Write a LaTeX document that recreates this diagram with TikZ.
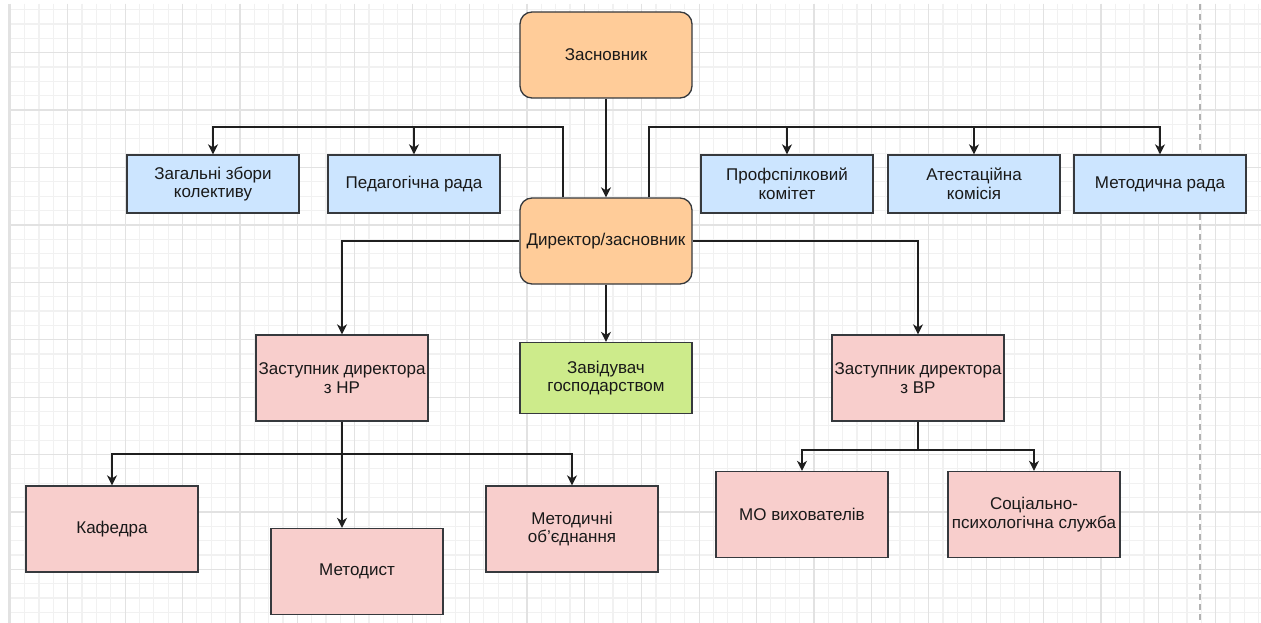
\documentclass[tikz,border=0pt]{standalone}
\usepackage{fontspec}
\setmainfont{Liberation Sans}
\usepackage{tikz}
\usetikzlibrary{calc}
\usetikzlibrary{arrows.meta}

\definecolor{orng}{HTML}{FFCC99}
\definecolor{blu}{HTML}{CCE5FF}
\definecolor{pnk}{HTML}{F8CECC}
\definecolor{grn}{HTML}{CDEB8B}
\definecolor{rim}{HTML}{36393D}
\definecolor{gridminor}{HTML}{F1F1F1}
\definecolor{gridmajor}{HTML}{E2E2E2}

\begin{document}
\begin{tikzpicture}[x=1pt, y=-1pt,
    box/.style={draw=rim, line width=1.3pt, inner sep=0, minimum width=172pt, align=center,
                font=\fontsize{17}{18.6}\selectfont, text=black!90},
    head/.style={box, fill=orng, rounded corners=12pt, minimum height=86pt},
    council/.style={box, fill=blu, minimum height=58pt},
    deputy/.style={box, fill=pnk, minimum height=86pt},
    house/.style={box, fill=grn, minimum height=71pt},
    link/.style={line width=1.6pt, black!88},
    arr/.style={link, -{Stealth[length=10pt, width=10pt, inset=3pt]}}]

        \fill[white] (0, 0) rectangle (1261, 623);
        \useasboundingbox (0, 0) rectangle (1261, 623);

        % grid
        \foreach \i in {0,...,86}
          \draw[gridminor, line width=1.2pt] ({24.65+\i*14.35}, 4) -- ({24.65+\i*14.35}, 623);
        \foreach \j in {0,...,42}
          \draw[gridminor, line width=1.2pt] (10, {9.65+\j*14.35}) -- (1261, {9.65+\j*14.35});
        \foreach \i in {0,...,20}
          \draw[gridmajor, line width=1.2pt] ({67.7+\i*57.4}, 4) -- ({67.7+\i*57.4}, 623);
        \foreach \j in {0,...,9}
          \draw[gridmajor, line width=1.2pt] (10, {52.7+\j*57.4}) -- (1261, {52.7+\j*57.4});
        \draw[gridmajor, line width=3pt] (9, 4) -- (9, 623);
        \draw[black!30, line width=1.5pt, dash pattern=on 6pt off 4pt] (1200, 4) -- (1200, 623);

        \node (top) [head] at (606, 55) {Засновник};
        \node (dir) [head] at (606, 241) {Директор/засновник};

        \node (b0) [council] at (213, 184) {Загальні збори\\колективу};
        \node (b1) [council] at (414, 184) {Педагогічна рада};
        \node (b2) [council] at (787, 184) {Профспілковий\\комітет};
        \node (b3) [council] at (974, 184) {Атестаційна\\комісія};
        \node (b4) [council] at (1160, 184) {Методична рада};

        \node (nr) [deputy] at (342, 378) {Заступник директора\\з НР};
        \node (gosp) [house] at (606, 378) {Завідувач\\господарством};
        \node (vr) [deputy] at (918, 378) {Заступник директора\\з ВР};

        \node (kaf) [deputy] at (112, 529) {Кафедра};
        \node (metd) [deputy] at (357, 571.5) {Методист};
        \node (mob) [deputy] at (572, 529) {Методичні\\об'єднання};

        \node (mo) [deputy] at (802, 514.5) {МО вихователів};
        \node (soc) [deputy] at (1034, 514.5) {Соціально-\\психологічна служба};

        \coordinate (ul) at (563, 127);
        \coordinate (ur) at (649, 127);
        \coordinate (nl) at (342, 454);
        \coordinate (vl) at (918, 450);

        \draw[arr] (top) -- (dir);
        \draw[arr] (dir.north -| ul) -- (ul) -| (b0.north);
        \draw[arr] (ul) -| (b1.north);
        \draw[arr] (dir.north -| ur) -- (ur) -| (b4.north);
        \draw[arr] (ur) -| (b2.north);
        \draw[arr] (ur) -| (b3.north);

        \draw[arr] (dir.west) -| (nr.north);
        \draw[arr] (dir.east) -| (vr.north);
        \draw[arr] (dir) -- (gosp);

        \draw[link] (nr.south) -- (nl);
        \draw[arr] (nl) -| (kaf.north);
        \draw[arr] (nl) -| (mob.north);
        \draw[arr] (nl) -- (nl |- metd.north);

        \draw[link] (vr.south) -- (vl);
        \draw[arr] (vl) -| (mo.north);
        \draw[arr] (vl) -| (soc.north);
      \end{tikzpicture}
\end{document}
